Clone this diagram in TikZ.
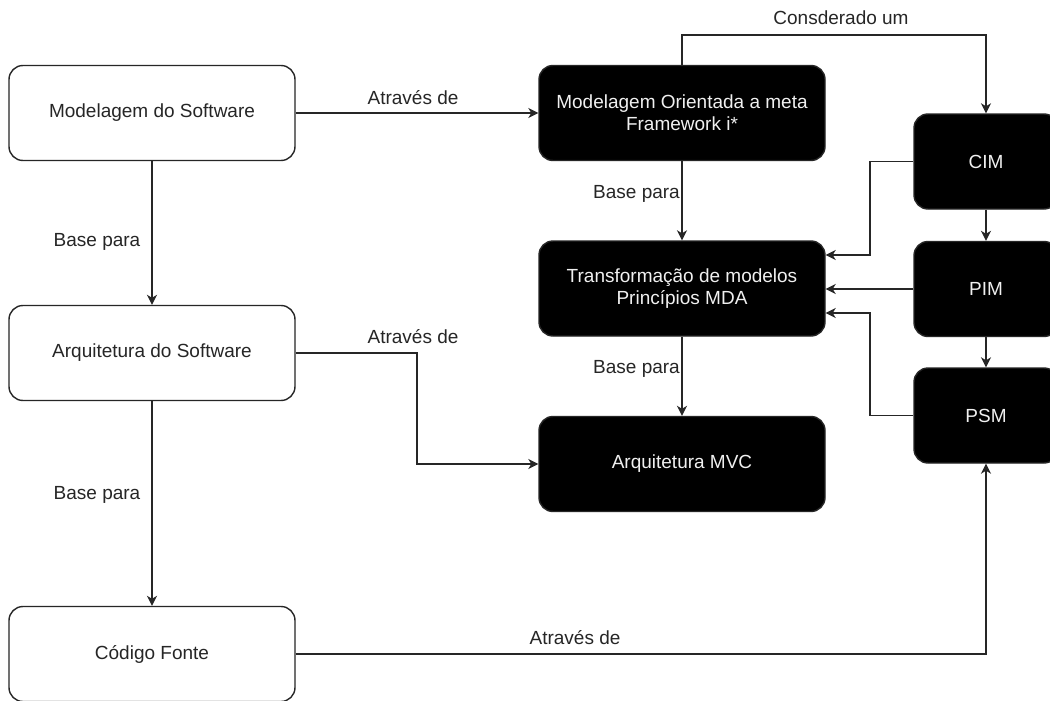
\documentclass[tikz,border=0pt]{standalone}
\usepackage{fontspec}
\setmainfont{Liberation Sans}
\usetikzlibrary{arrows.meta}
\begin{document}
\begin{tikzpicture}[x=1pt,y=-1pt,
  font=\fontsize{19}{22}\selectfont,
  box/.style={draw=black!85,line width=1.4pt,rounded corners=14pt,
    minimum height=95pt,align=center,inner sep=0pt},
  wbox/.style={box,fill=white,text=black!85,minimum width=286pt},
  bbox/.style={box,fill=black,text=white!94!black,minimum width=286pt},
  sbox/.style={box,fill=black,text=white!94!black,minimum width=144pt},
  arr/.style={draw=black!85,line width=1.4pt,
    -{Stealth[length=10pt,width=10pt,inset=3pt]}},
  lbl/.style={text=black!85,inner sep=0pt}]
\clip (0,0) rectangle (1050,701);
\fill[white] (0,0) rectangle (1050,701);

% left column
\node[wbox] (ms) at (152,113) {Modelagem do Software};
\node[wbox] (as) at (152,353) {Arquitetura do Software};
\node[wbox] (cf) at (152,654) {Código Fonte};

% middle column
\node[bbox] (mo) at (682,113) {Modelagem Orientada a meta\\Framework i*};
\node[bbox] (tm) at (682,288.5) {Transformação de modelos\\Princípios MDA};
\node[bbox] (mvc) at (682,464) {Arquitetura MVC};

% right column
\node[sbox] (cim) at (986,161.5) {CIM};
\node[sbox] (pim) at (986,289) {PIM};
\node[sbox] (psm) at (986,415.5) {PSM};

% bend points
\coordinate (top) at (682,35);
\coordinate (k1) at (870,255);
\coordinate (k2) at (870,313);
\coordinate (k3) at (417,353);

% connectors
\draw[arr] (ms.east) -- (mo.west);
\draw[arr] (ms.south) -- (as.north);
\draw[arr] (as.south) -- (cf.north);
\draw[arr] (mo.north) -- (top) -| (cim.north);
\draw[arr] (mo.south) -- (tm.north);
\draw[arr] (tm.south) -- (mvc.north);
\draw[arr] (cim.south) -- (pim.north);
\draw[arr] (pim.south) -- (psm.north);
\draw[arr] (cim.west) -| (k1) -- (tm.east |- k1);
\draw[arr] (pim.west) -- (pim.west -| tm.east);
\draw[arr] (psm.west) -| (k2) -- (tm.east |- k2);
\draw[arr] (as.east) -- (k3) |- (mvc.west);
\draw[arr] (cf.east) -| (psm.south);

% connector labels
\node[lbl] (l1) at (413,98) {Através de};
\node[lbl] (l2) at (97,242) {Base para};
\node[lbl] (l3) at (97,495) {Base para};
\node[lbl] (l4) at (413,337) {Através de};
\node[lbl] (l5) at (841,18) {Consderado um};
\node[lbl,anchor=east] (l6) at (680,194) {Base para};
\node[lbl,anchor=east] (l7) at (680,369) {Base para};
\node[lbl] (l8) at (575,638) {Através de};
\end{tikzpicture}
\end{document}
